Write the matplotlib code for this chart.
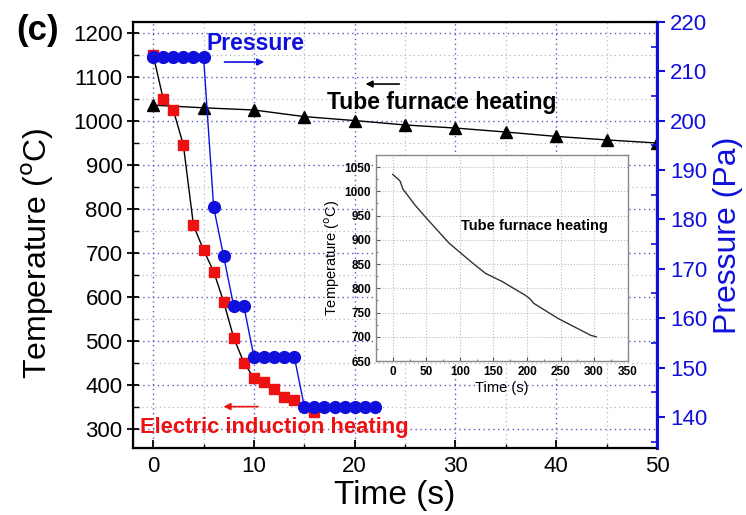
import matplotlib
matplotlib.use("Agg")
import matplotlib.pyplot as plt
from matplotlib.ticker import MultipleLocator

plt.rcParams['font.family'] = ['Liberation Sans', 'DejaVu Sans']

# induccion electrica (rojo)
t_ind = [0, 1, 2, 3, 4, 5, 6, 7, 8, 9, 10, 11, 12, 13, 14, 16]
T_ind = [1150, 1050, 1025, 945, 763, 707, 658, 589, 507, 451, 416, 406, 392, 372, 366, 339]

# horno tubular (negro)
t_tubo = [0, 5, 10, 15, 20, 25, 30, 35, 40, 45, 50]
T_tubo = [1036, 1030, 1025, 1010, 1001, 991, 984, 975, 965, 957, 950]

# presion (azul, eje derecho)
t_pres = [0, 1, 2, 3, 4, 5, 6, 7, 8, 9, 10, 11, 12, 13, 14, 15, 16, 17, 18, 19, 20, 21, 22]
P_pres = [213, 213, 213, 213, 213, 213, 182.5, 172.5, 162.4, 162.4, 152.2, 152.2, 152.2, 152.2, 152.2,
          142.1, 142.1, 142.1, 142.1, 142.1, 142.1, 142.1, 142.1]

# recuadro: enfriamiento largo del horno
t_ins = [0, 8, 11, 15, 33, 50, 84, 119, 138, 163, 197, 204, 210, 246, 295, 303]
T_ins = [1035, 1025, 1021, 1005, 972, 945, 893, 852, 831, 814, 786, 779, 769, 738, 703, 700]

fig = plt.figure(figsize=(7.46, 5.15), dpi=100)
ax = fig.add_axes([0.1783, 0.1301, 0.7024, 0.8272])

ax.plot(t_tubo, T_tubo, '-', color='black', lw=1.0, marker='^', ms=8, mfc='black', mec='black', zorder=3)
ax.plot(t_ind, T_ind, '-', color='black', lw=1.0, marker='s', ms=7, mfc='#ee1111', mec='#ee1111', zorder=4)

ax.set_xlim(-2, 50)
ax.set_ylim(257, 1225)
ax.xaxis.set_major_locator(MultipleLocator(10))
ax.xaxis.set_minor_locator(MultipleLocator(5))
ax.yaxis.set_major_locator(MultipleLocator(100))
ax.yaxis.set_minor_locator(MultipleLocator(50))
# rejilla: mayor azulada, menor gris claro
ax.grid(True, which='major', color='#5a5ac0', linestyle=(0, (1, 2.5)), linewidth=1.0)
ax.grid(True, which='minor', color='#b8b8c8', linestyle=(0, (1, 2.5)), linewidth=0.9)
ax.set_axisbelow(True)
ax.tick_params(axis='y', which='major', direction='inout', length=8, width=1.3, labelsize=16)
ax.tick_params(axis='y', which='minor', direction='in', length=4, width=1.0)
ax.tick_params(axis='x', which='major', direction='in', length=6, width=1.3, labelsize=16, pad=6)
ax.tick_params(axis='x', which='minor', direction='in', length=3, width=1.0)
for s in ax.spines.values():
    s.set_linewidth(1.6)

ax.set_xlabel('Time (s)', fontsize=24, labelpad=2)
ax.set_ylabel('Temperature ($^{\\mathrm{o}}$C)', fontsize=23)
ax.yaxis.set_label_coords(-0.147, 0.458)

# eje derecho de presion
ax2 = ax.twinx()
ax2.plot(t_pres, P_pres, '-', color='#1010dd', lw=1.0, marker='o', ms=8.5, mfc='#1010dd', mec='#1010dd', zorder=5)
ax2.set_ylim(133.7, 220)
ax2.yaxis.set_major_locator(MultipleLocator(10))
ax2.yaxis.set_minor_locator(MultipleLocator(5))
ax2.tick_params(axis='y', which='major', direction='out', length=6, width=1.5, colors='#1010dd', labelsize=16)
ax2.tick_params(axis='y', which='minor', direction='in', length=4, width=1.2, colors='#1010dd')
ax2.spines['right'].set_color('#1010dd')
ax2.spines['right'].set_linewidth(2.2)
ax2.set_ylabel('Pressure (Pa)', fontsize=23, color='#1010dd', labelpad=4)

# textos y flechas
ax.text(5.26, 1177, 'Pressure', color='#1010dd', fontsize=16.5, fontweight='bold', va='center', zorder=6)
ax.annotate('', xy=(11.3, 1134), xytext=(6.8, 1134),
            arrowprops=dict(arrowstyle='-|>', color='#1010dd', lw=1.2, mutation_scale=10))
ax.text(17.3, 1043, 'Tube furnace heating', color='black', fontsize=16.5, fontweight='bold', va='center', zorder=6)
ax.annotate('', xy=(20.8, 1084), xytext=(24.7, 1084),
            arrowprops=dict(arrowstyle='-|>', color='black', lw=1.2, mutation_scale=10))
ax.text(-1.3, 304, 'Electric induction heating', color='#ee1111', fontsize=15.8, fontweight='bold', va='center', zorder=6)
ax.annotate('', xy=(6.7, 351), xytext=(10.7, 351),
            arrowprops=dict(arrowstyle='-|>', color='#ee1111', lw=1.2, mutation_scale=10))

fig.text(0.022, 0.94, '(c)', fontsize=25, fontweight='bold', va='center')

# recuadro
axi = fig.add_axes([0.504, 0.299, 0.3374, 0.400])
axi.plot(t_ins, T_ins, color='#333333', lw=1.0)
axi.set_xlim(-25, 350)
axi.set_ylim(650, 1075)
axi.xaxis.set_major_locator(MultipleLocator(50))
axi.xaxis.set_minor_locator(MultipleLocator(25))
axi.yaxis.set_major_locator(MultipleLocator(50))
axi.yaxis.set_minor_locator(MultipleLocator(25))
axi.grid(True, which='major', color='#bbbbbb', linestyle=':', linewidth=0.8)
axi.tick_params(which='major', direction='in', length=3, color='#555555', labelsize=8.5)
axi.tick_params(which='minor', direction='in', length=1.5, color='#555555')
for lab in axi.get_xticklabels() + axi.get_yticklabels():
    lab.set_fontweight('bold')
for s in axi.spines.values():
    s.set_color('#888888')
    s.set_linewidth(1.0)
axi.set_xlabel('Time (s)', fontsize=10.5, labelpad=2)
axi.set_ylabel('Temperature ($^{\\mathrm{o}}$C)', fontsize=10.5, labelpad=2)
axi.text(101, 929, 'Tube furnace heating', fontsize=10.5, fontweight='bold', va='center')

fig.savefig('out.png', dpi=100)
